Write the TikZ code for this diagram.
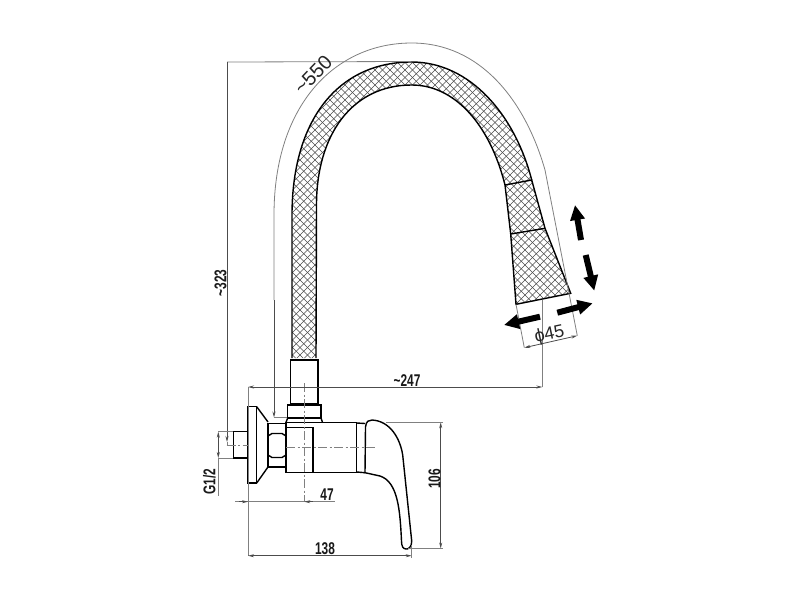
\documentclass[tikz,border=0pt]{standalone}
\usepackage{fontspec}
\setmainfont{Liberation Sans}
\usetikzlibrary{arrows.meta}
\definecolor{dimc}{gray}{0.5}
\definecolor{hatchc}{gray}{0.3}
\tikzset{
  obj/.style={line width=1.4pt,black},
  dimline/.style={line width=0.8pt,dimc},
  dimarr/.style={dimline,black!70,{Stealth[length=6pt,width=3pt]}-{Stealth[length=6pt,width=3pt]}},
  dimend/.style={dimline,black!70,-{Stealth[length=6pt,width=3pt]}},
  center line/.style={line width=0.8pt,dimc,dash pattern=on 9pt off 2.5pt on 2pt off 2.5pt},
  lab/.style={inner sep=0pt,font=\fontsize{17}{17}\selectfont\bfseries,xscale=0.7,black!90},
  thinlab/.style={inner sep=0pt,font=\fontsize{20}{20}\selectfont,black!85},
  philab/.style={inner sep=0pt,font=\fontsize{18}{18}\selectfont,black!85},
  block/.style={line width=6pt,black,-{Triangle[width=14pt,length=15pt]}},
  hatch/.style={line width=0.5pt,hatchc},
}
\begin{document}
\begin{tikzpicture}[x=1pt,y=-1pt]
\useasboundingbox (0,0) rectangle (800,600);
\fill[white] (0,0) rectangle (800,600);
% hatched hose and head
\begin{scope}
\clip (292,358) -- (292,215) .. controls (292,120) and (338,62) .. (411.7,62) .. controls (470,62) and (515,115) .. (531.7,180)
 -- (545,228.3) -- (570.7,293.3) -- (516,304.3) -- (510.7,234) -- (505,185)
 .. controls (490,125) and (455,85) .. (411.7,85) .. controls (352,85) and (316.5,135) .. (316.5,205) -- (316,358) -- cycle;
\foreach \k in {-300,-292.5,...,1000}{
  \draw[hatch] (\k,40) -- ++(340,340);
  \draw[hatch] (\k,40) -- ++(-340,340);
}
\end{scope}
\draw[obj] (292,358) -- (292,215) .. controls (292,120) and (338,62) .. (411.7,62) .. controls (470,62) and (515,115) .. (531.7,180);
\draw[obj] (505,185) .. controls (490,125) and (455,85) .. (411.7,85) .. controls (352,85) and (316.5,135) .. (316.5,205) -- (316,358);
\draw[obj] (505,185) -- (531.7,180) -- (545,228.3) -- (570.7,293.3) -- (516,304.3) -- (510.7,234) -- (505,185);
\draw[obj] (510.7,234) -- (545,228.3);
% tube and nut
\draw[obj] (290.7,405) -- (290.7,360) -- (318,360) -- (318,405);
\draw[obj] (287.7,405) rectangle (321,418);
\draw[obj] (290.7,404) -- (318,404);
\draw[obj] (287.7,418) -- (286,422.3);
\draw[obj] (321,418) -- (322.5,422.3);
\draw[line width=1.8pt] (288,418.5) -- (321,418.5);
% flange, stub
\draw[obj] (233.3,431.7) rectangle (247.7,458);
\draw[obj] (247.7,406.7) rectangle (256.7,483);
\draw[obj] (256.7,406.7) -- (268,422) (256.7,483) -- (268,467);
% hex
\draw[obj] (268,423.3) rectangle (286,467);
\draw[obj] (268,436) -- (272,433.5) -- (282,433.5) -- (286,436);
\draw[obj] (268,455) -- (272,457.5) -- (282,457.5) -- (286,455);
% body
\draw[obj] (286,422.3) rectangle (356.7,472.7);
\draw[obj] (286,427.3) -- (313,427.3) -- (313,472.7);
\draw[obj] (356.7,423) -- (365,423.5) (356.7,472) -- (365,472.7);
% handle
\draw[obj,fill=white] (365,472.7) -- (365.5,427) .. controls (366,421) and (369,420) .. (372,420)
 .. controls (390,421) and (400,438) .. (402.7,455) -- (411.7,541) .. controls (412,547) and (408,549.5) .. (406,549)
 .. controls (403,549) and (401.5,546) .. (401.5,541) .. controls (400,510) and (398,482) .. (380,476) -- cycle;
% centre lines
\draw[center line] (226.7,445) -- (248,445);
\draw[center line] (286,447.7) -- (375,447.7);
\draw[center line] (304.3,383) -- (304.3,501.7);
% ~323
\coordinate (top) at (411,61.5);
\coordinate (d323t) at (227,62);
\coordinate (d323b) at (227,442);
\draw[dimline] (top) -- (d323t);
\draw[dimend] (d323t) -- (d323b);
\draw[dimline] (d323b) -- (227,445);
\node[rotate=90,lab] (l323) at (220.5,283) {\textasciitilde323};
% outer length curve
\coordinate (n550) at (274,417.5);
\draw[line width=0.8pt,dimc] (274,300) -- (274,215) .. controls (274,105) and (335,43) .. (411.7,43) .. controls (480,43) and (525,100) .. (545,170) -- (577.3,335.7);
\draw[dimend] (274,300) -- (n550);
\draw[dimline] (n550) -- (287,417.5);
\node[rotate=46,thinlab] (l550) at (313,75) {\textasciitilde550};
% ~247
\coordinate (d247l) at (248,387);
\coordinate (d247r) at (542.3,387);
\draw[dimarr] (d247l) -- (d247r);
\draw[dimline] (d247r) -- (542.3,300);
\node[lab] (l247) at (407,380.5) {\textasciitilde247};
% 138
\coordinate (d138l) at (248,555.7);
\coordinate (d138r) at (411.7,555.7);
\draw[dimline] (d247l) -- (d138l);
\draw[dimarr] (d138l) -- (d138r);
\draw[dimline] (411.7,545) -- (411.7,558);
\node[lab] (l138) at (325,549) {138};
% 47
\coordinate (d47l) at (248,501.7);
\coordinate (d47r) at (304.3,501.7);
\draw[dimline] (235,501.7) -- (335,501.7);
\draw[black!70,line width=0.8pt,{Stealth[length=6pt,width=3pt]}-] (d47l) -- ++(-9,0);
\draw[black!70,line width=0.8pt,{Stealth[length=6pt,width=3pt]}-] (d47r) -- ++(9,0);
\node[lab] (l47) at (327,495) {47};
% 106
\coordinate (d106t) at (440.7,422.3);
\coordinate (d106b) at (440.7,548.5);
\draw[dimarr] (d106t) -- (d106b);
\draw[dimline] (386,422.3) -- (443,422.3) (408,548.5) -- (443,548.5);
\node[rotate=90,lab] (l106) at (434.5,479) {106};
% G1/2
\coordinate (gt) at (218.3,431.7);
\coordinate (gb) at (218.3,458);
\draw[dimarr] (gt) -- (gb);
\draw[dimline] (218.3,458) -- (218.3,496) (218.3,431.7) -- (233,431.7) (218.3,458) -- (233,458);
\node[rotate=90,lab] (lg) at (209.5,481.7) {G1/2};
% phi 45
\coordinate (pl) at (524.3,347.7);
\coordinate (pr) at (577.3,335.7);
\draw[dimarr] (pl) -- (pr);
\draw[dimline] (516,304.3) -- (pl);
\node[rotate=12,philab] (lp) at (549.5,335) {ϕ45};
% block arrows
\coordinate (a1s) at (581,240); \coordinate (a1e) at (575,205);
\coordinate (a2s) at (585.7,255); \coordinate (a2e) at (594.3,290.7);
\coordinate (a3s) at (540,316.7); \coordinate (a3e) at (504,325);
\coordinate (a4s) at (557.3,312.7); \coordinate (a4e) at (592.7,303.3);
\draw[block] (a1s) -- (a1e);
\draw[block] (a2s) -- (a2e);
\draw[block] (a3s) -- (a3e);
\draw[block] (a4s) -- (a4e);
\end{tikzpicture}
\end{document}
